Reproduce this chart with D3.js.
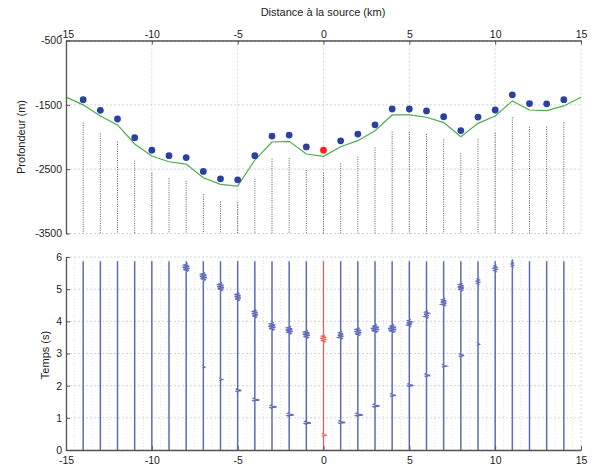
<!DOCTYPE html>
<html>
<head>
<meta charset="utf-8">
<script src="https://cdn.jsdelivr.net/npm/d3@7"></script>
<style>
  body { margin: 0; background: #fff; }
  text { font-family: "Liberation Sans", Arial, sans-serif; fill: #222; }
</style>
</head>
<body>
<svg id="chart" width="598" height="470"></svg>
<script>
// Stations (km from the source), every km from -14 to 14
const stations = [-14,-13,-12,-11,-10,-9,-8,-7,-6,-5,-4,-3,-2,-1,0,1,2,3,4,5,6,7,8,9,10,11,12,13,14];
// Depth of each station (blue dots, red = source)
const stationDepth = [-1420,-1585,-1720,-2010,-2205,-2290,-2320,-2535,-2650,-2665,-2290,-1985,-1970,
  -2155,-2205,-2060,-1955,-1810,-1565,-1565,-1595,-1685,-1900,-1690,-1580,-1345,-1480,-1485,-1420];
// Top of the dotted stems under each station
const stemTop = [-1777,-1943,-2073,-2369,-2556,-2643,-2681,-2888,-3002,-3013,-2649,-2338,-2327,
  -2514,-2556,-2410,-2307,-2161,-1917,-1917,-1953,-2036,-2254,-2036,-1933,-1693,-1840,-1840,-1771];
// Green profile, one point per km from -15 to 15
const surfaceKm = [-15,-14,-13,-12,-11,-10,-9,-8,-7,-6,-5,-4,-3,-2,-1,0,1,2,3,4,5,6,7,8,9,10,11,12,13,14,15];
const surfaceDepth = [-1380,-1500,-1673,-1813,-2109,-2296,-2385,-2421,-2634,-2737,-2763,-2358,-2078,-2068,
  -2265,-2301,-2151,-2057,-1902,-1657,-1657,-1693,-1777,-1995,-1788,-1673,-1439,-1580,-1590,-1517,-1382];

// Arrival times (s) read on each trace, null when nothing shows
const reflTime = [null,null,null,null,null,null,5.68,5.40,5.08,4.77,4.24,3.85,3.73,
  3.60,3.47,3.57,3.68,3.78,3.78,3.95,4.22,4.60,5.07,5.25,5.65,5.78,null,null,null];
const reflAmp = [0,0,0,0,0,0,1,1,1,0.9,0.9,1,1,
  1,0.9,0.8,1,1.2,1.2,0.7,0.7,0.8,0.9,0.4,0.5,0.3,0,0,0];
const directTime = [null,null,null,null,null,null,null,2.59,2.20,1.86,1.57,1.35,1.10,
  0.85,0.47,0.87,1.10,1.38,1.71,2.02,2.33,2.62,2.95,3.30,null,null,null,null,null];
const directAmp = [0,0,0,0,0,0,0,0.3,0.4,0.8,1,1,1,
  1,0.7,1,1.1,1,0.8,0.9,0.8,0.6,0.7,0.3,0,0,0,0,0];
// Wavelet shapes (samples spread over the given duration)
const reflWavelet = [0, 0.5, -0.8, 1, -1, 0.9, -0.6, 0.3, 0];
const reflDuration = 0.28;
const directWavelet = [0, -0.4, 1.3, 0.2, -0.4, 0];
const directDuration = 0.12;
const traceEnd = 5.87;

const xTicks = [-15,-10,-5,0,5,10,15];
const depthTicks = [-500,-1500,-2500,-3500];
const timeTicks = [0,1,2,3,4,5,6];

const svg = d3.select("#chart");

const x = d3.scaleLinear().domain([-15, 15]).range([66, 581]);
const yTop = d3.scaleLinear().domain([-500, -3500]).range([40.5, 233.5]);
const yBot = d3.scaleLinear().domain([0, 6]).range([450, 257]);

const gridCol = "#d4d4d4";
const axisCol = "#555";

// ---------- top panel : profile ----------
const topPanel = svg.append("g");

// grid
topPanel.selectAll(".vg").data(xTicks).join("line")
  .attr("x1", d => x(d)).attr("x2", d => x(d))
  .attr("y1", yTop(-500)).attr("y2", yTop(-3500))
  .attr("stroke", gridCol).attr("stroke-dasharray", "2,2");
topPanel.selectAll(".hg").data(depthTicks).join("line")
  .attr("x1", x(-15)).attr("x2", x(15))
  .attr("y1", d => yTop(d)).attr("y2", d => yTop(d))
  .attr("stroke", gridCol).attr("stroke-dasharray", "2,2");

// stems
topPanel.selectAll(".stem").data(stations).join("line")
  .attr("x1", d => x(d)).attr("x2", d => x(d))
  .attr("y1", (d, i) => yTop(stemTop[i])).attr("y2", yTop(-3500))
  .attr("stroke", "#333").attr("stroke-width", 0.8).attr("stroke-dasharray", "1,1.3");

// green profile
const surface = surfaceKm.map((k, i) => [k, surfaceDepth[i]]);
topPanel.append("path")
  .datum(surface)
  .attr("fill", "none").attr("stroke", "#4daf4a").attr("stroke-width", 1.2)
  .attr("d", d3.line().x(d => x(d[0])).y(d => yTop(d[1])));

// station dots
topPanel.selectAll(".dot").data(stations).join("circle")
  .attr("cx", d => x(d)).attr("cy", (d, i) => yTop(stationDepth[i]))
  .attr("r", 3.4)
  .attr("fill", d => d === 0 ? "#ff2222" : "#2c40a0");

// axes (ticks inside, like the original)
const topAxis = topPanel.append("g").attr("transform", `translate(0,${yTop(-500)})`)
  .call(d3.axisTop(x).tickValues(xTicks).tickSize(-4).tickSizeOuter(0).tickPadding(3).tickFormat(d3.format("d")));
const leftTop = topPanel.append("g").attr("transform", `translate(${x(-15)},0)`)
  .call(d3.axisLeft(yTop).tickValues(depthTicks).tickSize(-4).tickSizeOuter(0).tickPadding(4).tickFormat(d3.format("d")));

// ---------- bottom panel : traces ----------
const botPanel = svg.append("g");

// minor vertical grid every 0.5 km
const minorX = d3.range(-29, 30).map(v => v / 2).filter(v => !xTicks.includes(v));
botPanel.selectAll(".mg").data(minorX).join("line")
  .attr("x1", d => x(d)).attr("x2", d => x(d))
  .attr("y1", yBot(0)).attr("y2", yBot(6))
  .attr("stroke", "#e2e2e2").attr("stroke-dasharray", "1,2");
botPanel.selectAll(".vg").data(xTicks).join("line")
  .attr("x1", d => x(d)).attr("x2", d => x(d))
  .attr("y1", yBot(0)).attr("y2", yBot(6))
  .attr("stroke", gridCol).attr("stroke-dasharray", "2,2");
botPanel.selectAll(".hg").data(timeTicks).join("line")
  .attr("x1", x(-15)).attr("x2", x(15))
  .attr("y1", d => yBot(d)).attr("y2", d => yBot(d))
  .attr("stroke", gridCol).attr("stroke-dasharray", "2,2");

// build one path per trace, inserting wavelets at arrivals
const tracePoints = (i) => {
  const arrivals = [];
  if (reflTime[i] !== null) arrivals.push({t: reflTime[i], a: reflAmp[i], w: reflWavelet, dur: reflDuration});
  if (directTime[i] !== null) arrivals.push({t: directTime[i], a: directAmp[i], w: directWavelet, dur: directDuration});
  arrivals.sort((p, q) => p.t - q.t);
  let pts = [[0, 0]];
  arrivals.forEach(ar => {
    const n = ar.w.length - 1;
    ar.w.forEach((v, j) => {
      pts.push([ar.t - ar.dur / 2 + ar.dur * j / n, v * ar.a]);
    });
  });
  pts.push([traceEnd, 0]);
  return pts;
};

const wiggle = 3.5; // px per unit amplitude
botPanel.selectAll(".trace").data(stations).join("path")
  .attr("fill", "none")
  .attr("stroke", d => d === 0 ? "#ff3b3b" : "#4a59b3")
  .attr("stroke-width", d => d === 0 ? 1.2 : 1.5)
  .attr("stroke-opacity", 0.88)
  .attr("d", (d, i) => d3.line()
    .x(p => x(d) + p[1] * wiggle)
    .y(p => yBot(p[0]))(tracePoints(i)));

const botAxis = botPanel.append("g").attr("transform", `translate(0,${yBot(0)})`)
  .call(d3.axisBottom(x).tickValues(xTicks).tickSize(-4).tickSizeOuter(0).tickPadding(7).tickFormat(d3.format("d")));
const leftBot = botPanel.append("g").attr("transform", `translate(${x(-15)},0)`)
  .call(d3.axisLeft(yBot).tickValues(timeTicks).tickSize(-4).tickSizeOuter(0).tickPadding(4).tickFormat(d3.format("d")));

// style all axes the same way
[topAxis, leftTop, botAxis, leftBot].forEach(g => {
  g.select(".domain").attr("stroke", axisCol).attr("stroke-width", 1.3);
  g.selectAll(".tick line").attr("stroke", axisCol);
  g.selectAll("text").attr("font-size", 10.5).attr("fill", "#222")
    .text(function() { return this.textContent.replace("−", "-"); });
});

// titles
svg.append("text").attr("x", 323).attr("y", 16).attr("text-anchor", "middle")
  .attr("font-size", 11).text("Distance à la source (km)");
svg.append("text").attr("transform", "translate(25,137) rotate(-90)").attr("text-anchor", "middle")
  .attr("font-size", 11).text("Profondeur (m)");
svg.append("text").attr("transform", "translate(49,355) rotate(-90)").attr("text-anchor", "middle")
  .attr("font-size", 11).text("Temps (s)");
</script>
</body>
</html>
